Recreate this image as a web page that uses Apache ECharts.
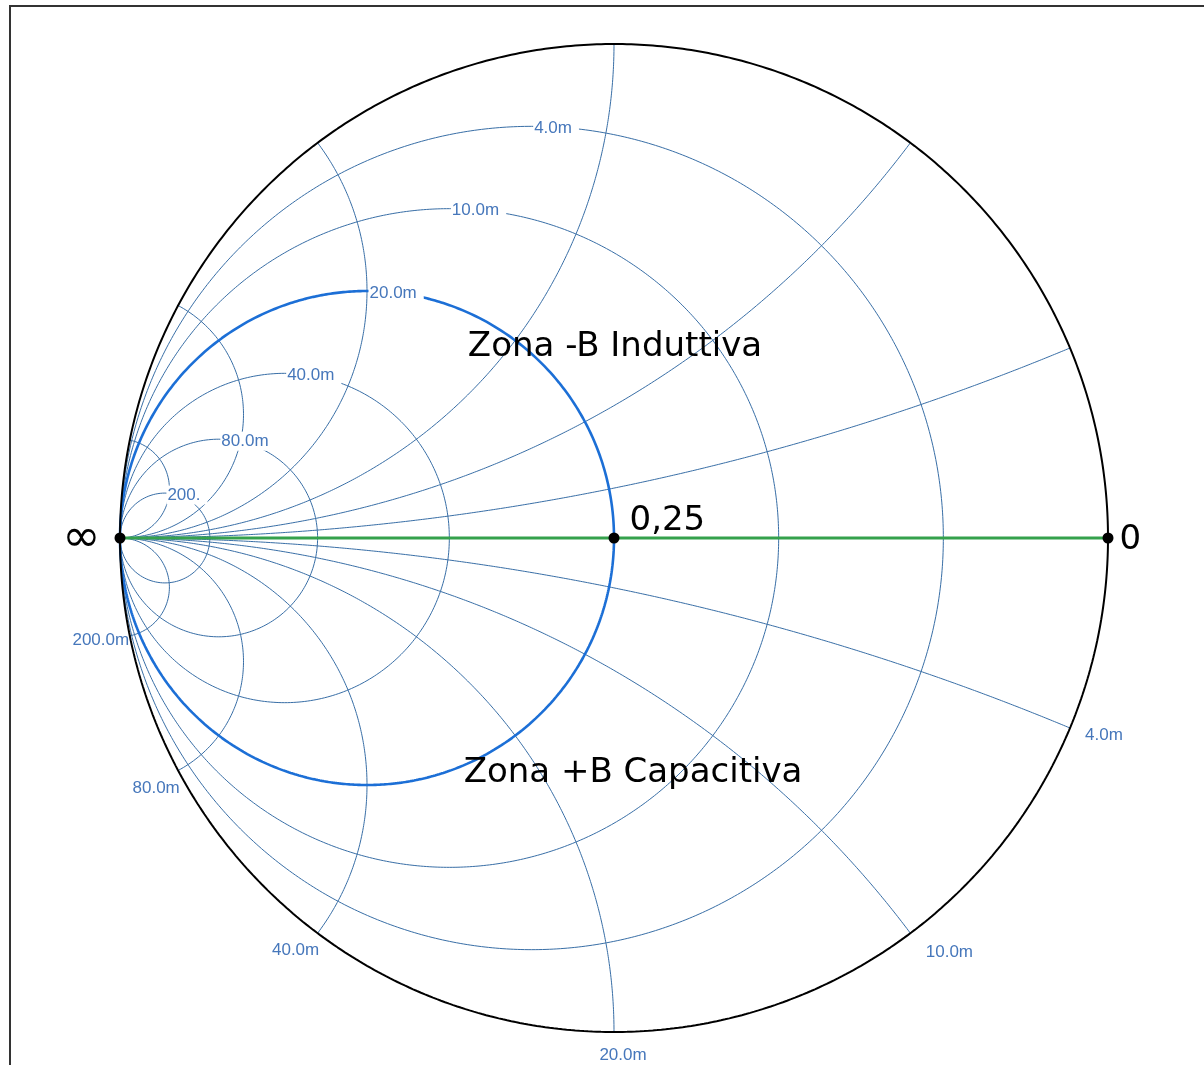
<!DOCTYPE html>
<html>
<head>
<meta charset="utf-8">
<script src="https://cdn.jsdelivr.net/npm/echarts@6/dist/echarts.min.js"></script>
<style>
  html, body { margin: 0; padding: 0; background: #ffffff; }
  #chart { width: 1204px; height: 1065px; }
</style>
</head>
<body>
<div id="chart"></div>
<script>
// Reference admittance used to normalise the chart (mS)
const Y0 = 20;

// Constant-conductance circles (mS) and their captions
const conductances = [4, 10, 20, 40, 80, 200];
const conductanceLabels = ['4.0m', '10.0m', '20.0m', '40.0m', '80.0m', '200.'];

// Constant-susceptance arcs (mS), drawn for +B and -B
const susceptances = [4, 10, 20, 40, 80, 200];
const susceptanceLabels = ['4.0m', '10.0m', '20.0m', '40.0m', '80.0m', '200.0m'];

// Highlighted conductance circle (mS)
const highlightConductance = 20;

// Marked points on the real axis: admittance (mS) and caption
const markerAdmittances = [Infinity, 20, 0];
const markerLabels = ['\u221E', '0,25', '0'];

// Region captions
const zoneLabels = ['Zona -B Induttiva', 'Zona +B Capacitiva'];

// Reflection coefficient for a normalised admittance y = g + jb
function gamma(g, b) {
  if (!isFinite(g) || !isFinite(b)) return [-1, 0];
  const d = (1 + g) * (1 + g) + b * b;
  return [(1 - g * g - b * b) / d, -2 * b / d];
}

// Full constant-conductance circle
function conductanceCircle(gS) {
  const g = gS / Y0;
  const cx = -g / (1 + g), r = 1 / (1 + g);
  const pts = [];
  for (let i = 0; i <= 720; i++) {
    const a = i / 720 * 2 * Math.PI;
    pts.push([cx + r * Math.cos(a), r * Math.sin(a)]);
  }
  return pts;
}

// Constant-susceptance arc, from the rim (g = 0) to the short point (g = inf)
function susceptanceArc(bS) {
  const b = bS / Y0;
  const pts = [];
  for (let i = 0; i < 800; i++) {
    const t = i / 800;
    pts.push(gamma(t / (1 - t), b));
  }
  pts.push([-1, 0]);
  return pts;
}

const thinColor = '#386ea6';
const labelColor = '#4677bb';
const smallFont = { fontFamily: 'Liberation Sans', fontSize: 17, color: labelColor, opacity: 1 };
const bigFont = { fontFamily: 'DejaVu Sans', fontSize: 34, color: '#000000', opacity: 1, textBorderWidth: 0 };
const hidden = { color: 'rgba(0,0,0,0)', opacity: 1 };

const series = [];

// Conductance circles
conductances.forEach(function (gS) {
  const hl = gS === highlightConductance;
  series.push({
    type: 'line', data: conductanceCircle(gS), symbol: 'none', silent: true,
    z: hl ? 3 : 2, clip: false,
    lineStyle: hl ? { color: '#1c6fd6', width: 2.6 } : { color: thinColor, width: 1 }
  });
});

// Susceptance arcs, both halves
susceptances.forEach(function (bS) {
  [1, -1].forEach(function (sgn) {
    series.push({
      type: 'line', data: susceptanceArc(sgn * bS), symbol: 'none', silent: true,
      z: 2, clip: false,
      lineStyle: { color: thinColor, width: 1 }
    });
  });
});

// Outer rim (g = 0)
series.push({
  type: 'line', data: conductanceCircle(0), symbol: 'none', silent: true, z: 4, clip: false,
  lineStyle: { color: '#000000', width: 2 }
});

// Real axis (b = 0)
series.push({
  type: 'line', data: susceptanceArc(0), symbol: 'none', silent: true, z: 5, clip: false,
  lineStyle: { color: '#35a14c', width: 3 }
});

// Conductance captions at the top of each circle
series.push({
  type: 'scatter', silent: true, z: 6, symbolSize: 1,
  itemStyle: hidden,
  data: conductances.map(function (gS, i) {
    const g = gS / Y0;
    return { value: [-g / (1 + g), 1 / (1 + g)], name: conductanceLabels[i] };
  }),
  label: Object.assign({
    show: true, position: 'right', distance: 1, offset: [0, 2],
    formatter: '{b}', backgroundColor: '#ffffff', padding: [1, 7, 1, 1]
  }, smallFont)
});

// Susceptance captions where each arc meets the rim (capacitive half)
const susLabelOffsets = [[34, 7], [39, 19], [9, 23], [-22, 17], [-22, 18], [-29, 4]];
series.push({
  type: 'scatter', silent: true, z: 6, symbolSize: 1,
  itemStyle: hidden,
  data: susceptances.map(function (bS, i) {
    return {
      value: gamma(0, bS / Y0), name: susceptanceLabels[i],
      label: { offset: susLabelOffsets[i] }
    };
  }),
  label: Object.assign({ show: true, position: 'inside', formatter: '{b}' }, smallFont)
});

// Marked points
const markerLayout = [
  { position: 'left', distance: 14, offset: [0, 1], fontSize: 46 },
  { position: 'right', distance: 10, offset: [0, -17] },
  { position: 'right', distance: 6, offset: [0, 2] }
];
series.push({
  type: 'scatter', silent: true, z: 8, symbol: 'circle', symbolSize: 11,
  itemStyle: { color: '#000000', opacity: 1 },
  data: markerAdmittances.map(function (yS, i) {
    return {
      value: gamma(yS / Y0, 0), name: markerLabels[i],
      label: markerLayout[i]
    };
  }),
  label: Object.assign({ show: true, formatter: '{b}' }, bigFont)
});

// Region captions
const zonePositions = [[0.002, 0.387], [0.0385, -0.476]];
series.push({
  type: 'scatter', silent: true, z: 7, symbolSize: 1,
  itemStyle: hidden,
  data: zoneLabels.map(function (t, i) {
    return { value: zonePositions[i], name: t };
  }),
  label: Object.assign({ show: true, position: 'inside', formatter: '{b}' }, bigFont)
});

const chart = echarts.init(document.getElementById('chart'), null, { renderer: 'canvas' });
chart.setOption({
  animation: false,
  backgroundColor: '#ffffff',
  grid: { left: 120, top: 44, width: 988, height: 988 },
  xAxis: { type: 'value', min: -1, max: 1, show: false },
  yAxis: { type: 'value', min: -1, max: 1, show: false },
  graphic: [{
    type: 'rect', silent: true, z: 100,
    shape: { x: 10, y: 6, width: 1400, height: 1300 },
    style: { fill: 'none', stroke: '#333333', lineWidth: 2 }
  }],
  series: series
});
</script>
</body>
</html>
